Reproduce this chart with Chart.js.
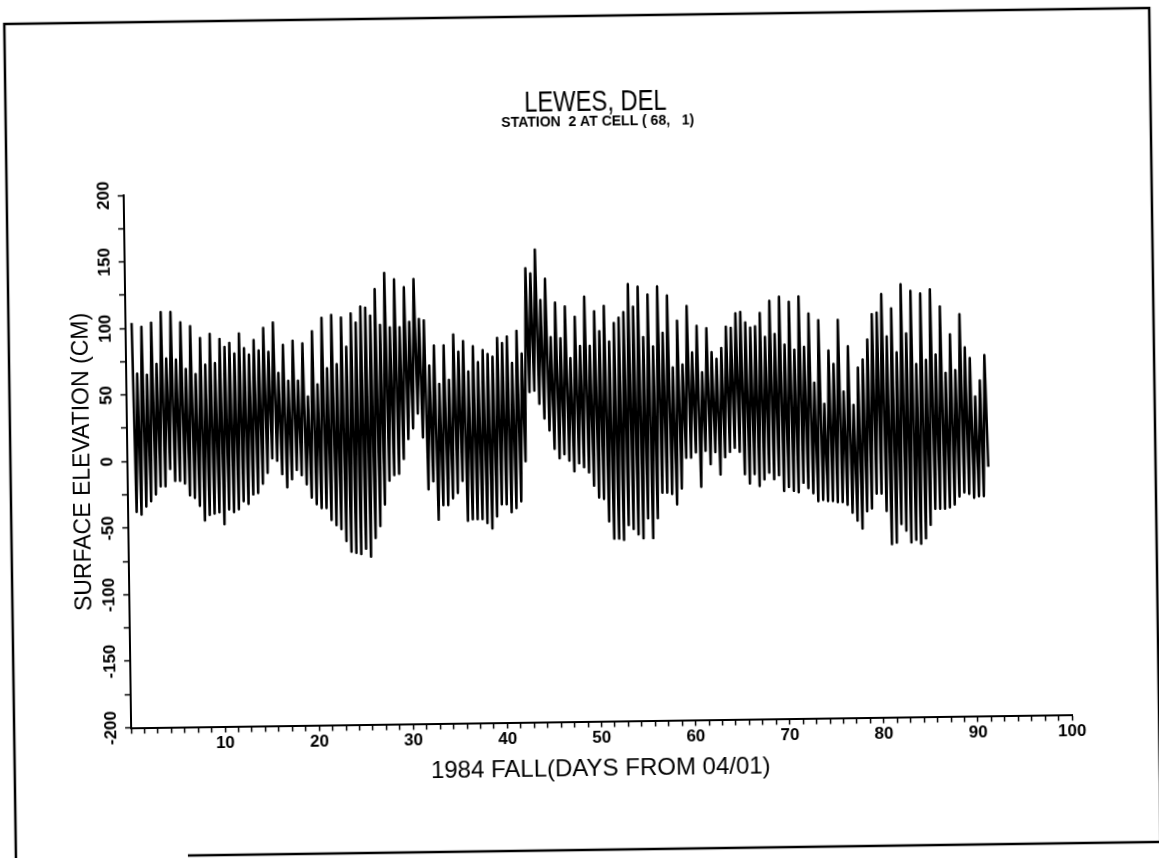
<!DOCTYPE html>
<html><head><meta charset="utf-8">
<script src="https://cdn.jsdelivr.net/npm/chart.js@4.4.1/dist/chart.umd.min.js"></script>
<style>
html,body{margin:0;padding:0;background:#fff;overflow:hidden;width:1159px;height:858px}
#wrap{position:absolute;left:0;top:0;width:1159px;height:858px;transform:rotate(-0.8deg);transform-origin:50% 50%}
canvas{display:block}
</style></head><body>
<div id="wrap"><canvas id="c" width="1159" height="858"></canvas></div>
<script>
// ---- text ----
const titleText = 'LEWES, DEL';
const subtitleText = 'STATION  2 AT CELL ( 68,   1)';
const xAxisTitle = '1984 FALL(DAYS FROM 04/01)';
const yAxisTitle = 'SURFACE ELEVATION (CM)';
const xTickLabels = ['10','20','30','40','50','60','70','80','90','100'];
const yTickLabels = ['-200','-150','-100','-50','0','50','100','150','200'];

// ---- data: successive high waters (cm), one per semidiurnal tide ----
const highsPart1 = [104,66,101,65,104,73,112,77,112,76, 104,69,101,65,92,72,95,73,91,85,
  88,80,95,84,79,90,82,99,81,103, 65,86,59,89,59,87,47,96,56,106,
  68,108,71,106,84,109,102,114,113,107, 127,100,139,98,134,98,128,102,134];
const highsPart2 = [104,103,69,84,55,84,58,92,79,87, 64,83,71,80,77,75,89,85,90,70,
  94,77,141,137,155,117,133,89,115,88, 112,73,104,82,119,82,108,93,112,85,
  99,103,107,128,111,126,88,120,81,126, 91,119,65,100,67,111,76,96,61];
const highsPart3 = [94,76,71,79,95,94,105,106,98,94, 95,105,87,114,89,117,81,113,77,117,
  79,104,52,99,36,76,66,99,45,79, 35,63,69,84,103,104,118,86,107,74,
  125,88,120,65,118,68,121,72,108,58, 87,60,102,77,69,40,52,71];
// ---- data: successive low waters (cm), the low following each high ----
const lowsPart1 = [-38,-40,-34,-30,-25,-19,-19,-6,-15,-15, -17,-26,-28,-34,-45,-41,-40,-39,-48,-37,
  -39,-37,-31,-33,-26,-25,-18,-10,1,-1, -11,-21,-15,-8,-12,-19,-29,-34,-37,-37,
  -46,-50,-53,-62,-70,-71,-72,-68,-74,-60, -51,-35,-17,-13,-12,-1,14,22,33];
const lowsPart2 = [15,-24,-18,-47,-36,-36,-31,-27,-18,-48, -47,-47,-47,-50,-54,-45,-36,-36,-42,-39,
  -34,-4,48,49,39,28,19,5,-2,1, -4,-12,-6,-9,-13,-23,-32,-33,-50,-63,
  -63,-64,-53,-56,-60,-63,-48,-63,-48,-29, -29,-30,-38,-26,-3,-3,1,-25,2];
const lowsPart3 = [-8,1,-16,-3,1,4,1,-16,-23,-16, -25,-20,-15,-20,-17,-29,-26,-29,-30,-23,
  -27,-31,-37,-36,-37,-37,-38,-38,-40,-46, -52,-58,-45,-43,-32,-32,-45,-70,-69,-55,
  -60,-69,-67,-70,-66,-56,-44,-44,-44,-43, -41,-35,-32,-33,-36,-35,-35,-13];

const highs = highsPart1.concat(highsPart2, highsPart3);
const lows = lowsPart1.concat(lowsPart2, lowsPart3);

// tide timing: semidiurnal period 0.5175 day
const TIDE_PERIOD = 0.5175, FIRST_HIGH = 0.65, LOW_LAG = 0.26;
const series = [];
for (let i = 0; i < highs.length; i++) {
  series.push({x: FIRST_HIGH + TIDE_PERIOD * i, y: highs[i]});
  if (i < lows.length) series.push({x: FIRST_HIGH + TIDE_PERIOD * i + LOW_LAG, y: lows[i]});
}

const LEFT = 127, RIGHT = 1068, TOP = 189, BOTTOM = 721.5, W = 1159, H = 858;

const decor = {
  id: 'decor',
  beforeDraw(chart) {
    const ctx = chart.ctx;
    ctx.save();
    ctx.fillStyle = '#fff';
    ctx.fillRect(0, 0, W, H);
    ctx.strokeStyle = '#000';
    ctx.lineWidth = 2.5;
    ctx.beginPath();
    ctx.moveTo(10, 860); ctx.lineTo(10, 16); ctx.lineTo(1155, 16); ctx.lineTo(1155, 850); ctx.lineTo(182, 850);
    ctx.stroke();
    ctx.restore();
  },
  afterDraw(chart) {
    const ctx = chart.ctx;
    const ys = chart.scales.y;
    ctx.save();
    ctx.fillStyle = '#000';
    ctx.textAlign = 'center';
    ctx.textBaseline = 'middle';
    ctx.save();
    ctx.translate(600, 103);
    ctx.scale(0.95, 1.15);
    ctx.font = '25px "Liberation Sans", Arial, sans-serif';
    ctx.fillText(titleText, 0, 0);
    ctx.restore();
    ctx.font = 'bold 14px "Liberation Sans", Arial, sans-serif';
    ctx.fillText(subtitleText, 602, 122);
    ctx.font = '24px "Liberation Sans", Arial, sans-serif';
    ctx.fillText(xAxisTitle, 596, 769);
    ctx.save();
    ctx.translate(83, 455);
    ctx.rotate(-Math.PI / 2);
    ctx.font = '23px "Liberation Sans", Arial, sans-serif';
    ctx.fillText(yAxisTitle, 0, 0);
    ctx.restore();
    ctx.font = 'bold 17px "Liberation Sans", Arial, sans-serif';
    yTickLabels.forEach(lab => {
      const py = ys.getPixelForValue(Number(lab));
      ctx.save();
      ctx.translate(107, py);
      ctx.rotate(-Math.PI / 2);
      ctx.fillText(lab, 0, 0);
      ctx.restore();
    });
    ctx.restore();
  }
};

new Chart(document.getElementById('c'), {
  type: 'line',
  data: { datasets: [{ data: series, borderColor: '#000', borderWidth: 2.5, pointRadius: 0, tension: 0, fill: false, borderJoinStyle: 'round' }] },
  options: {
    responsive: false, devicePixelRatio: 1, animation: false,
    layout: { padding: { left: 0, right: W - RIGHT, top: TOP, bottom: 0 } },
    plugins: { legend: { display: false }, tooltip: { enabled: false }, title: { display: false } },
    scales: {
      x: {
        type: 'linear', min: 0, max: 100,
        afterBuildTicks(scale) {
          const t = [];
          for (let k = 0; k <= 70; k++) t.push({ value: k * 10 / 7 });
          scale.ticks = t;
        },
        afterFit(scale) { scale.height = H - BOTTOM; },
        ticks: {
          autoSkip: false, maxRotation: 0, minRotation: 0, padding: 1, color: '#000',
          font: { family: '"Liberation Sans", Arial, sans-serif', size: 17, weight: 'bold' },
          callback(v, idx) { return (idx % 7 === 0 && idx > 0) ? xTickLabels[idx / 7 - 1] : ''; }
        },
        grid: { drawOnChartArea: false, drawTicks: true, tickLength: 6, tickColor: '#000', tickWidth: 1.5 },
        border: { display: true, color: '#000', width: 2 }
      },
      y: {
        type: 'linear', min: -200, max: 200,
        afterBuildTicks(scale) {
          const t = [];
          for (let v = -200; v <= 200; v += 25) t.push({ value: v });
          scale.ticks = t;
        },
        afterFit(scale) { scale.width = LEFT; },
        ticks: { autoSkip: false, callback() { return ''; } },
        grid: { drawOnChartArea: false, drawTicks: true, tickLength: 6, tickColor: '#000', tickWidth: 1.5 },
        border: { display: true, color: '#000', width: 2 }
      }
    }
  },
  plugins: [decor]
});
</script>
</body></html>
